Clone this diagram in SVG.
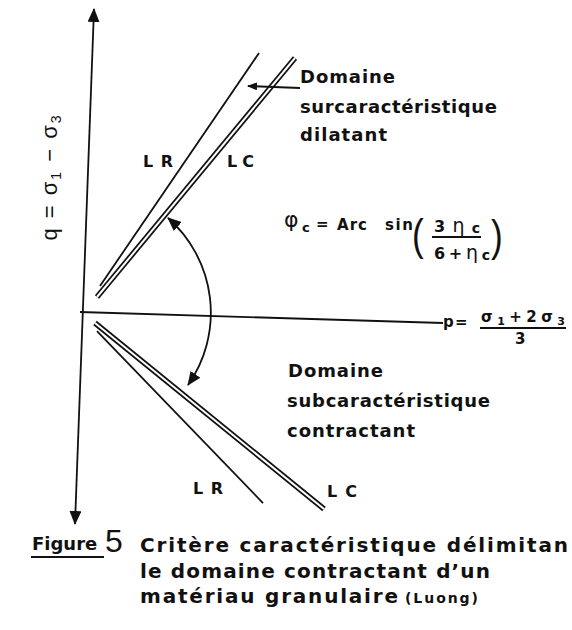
<svg xmlns="http://www.w3.org/2000/svg" width="572" height="630" viewBox="0 0 572 630">
<defs>
<style>
text{font-family:"DejaVu Sans","Liberation Sans",sans-serif;font-weight:bold;fill:#111;}
.lbl{font-size:18px;}
.lr{font-size:16px;}
.cap{font-size:20px;}
.ln{stroke:#111;stroke-width:1.8;fill:none;}
.dbo{stroke:#111;stroke-width:5.5;fill:none;}
.dbi{stroke:#fff;stroke-width:2;fill:none;}
.math{font-size:15px;}
.gr{font-family:"DejaVu Sans",sans-serif;font-weight:normal;}
.par{font-family:"Liberation Sans",sans-serif;font-weight:normal;font-size:44px;}
</style>
<marker id="ah" markerUnits="userSpaceOnUse" markerWidth="14" markerHeight="12" refX="13" refY="6" orient="auto-start-reverse" viewBox="0 0 14 12">
<path d="M0,0 L14,6 L0,12 Z" fill="#111"/>
</marker>
<marker id="ahs" markerUnits="userSpaceOnUse" markerWidth="10" markerHeight="8" refX="9" refY="4" orient="auto" viewBox="0 0 10 8">
<path d="M0,0 L10,4 L0,8 Z" fill="#111"/>
</marker>
</defs>
<rect width="572" height="630" fill="#fff"/>

<g id="connectors">
<line class="ln" x1="94" y1="9" x2="75" y2="524" marker-start="url(#ah)" marker-end="url(#ah)"/>
<line class="ln" x1="80" y1="312" x2="443" y2="323"/>
<line class="ln" x1="100" y1="286" x2="259" y2="53"/>
<line class="dbo" x1="97" y1="297" x2="295" y2="58"/>
<line class="dbi" x1="97" y1="297" x2="295" y2="58"/>
<line class="ln" x1="97" y1="331" x2="263" y2="503"/>
<line class="dbo" x1="95" y1="323" x2="324" y2="509"/>
<line class="dbi" x1="95" y1="323" x2="324" y2="509"/>
<line class="ln" x1="300" y1="88" x2="248" y2="86" stroke-width="1.4" marker-end="url(#ahs)"/>
<path class="ln" d="M168,218 A126 126 0 0 1 188,385" marker-start="url(#ah)" marker-end="url(#ah)"/>
</g>

<g id="y-axis-label">
<text transform="translate(57,178) rotate(-90)" text-anchor="middle" style="font-family:'Liberation Sans',sans-serif;font-weight:normal;font-size:22px" textLength="125" lengthAdjust="spacing">q = σ<tspan font-size="14" dy="4">1</tspan><tspan dy="-4"> − σ</tspan><tspan font-size="14" dy="4">3</tspan></text>
</g>

<g id="x-axis-label">
<text class="math" x="443" y="327">p</text>
<text class="math" x="455" y="327">=</text>
<text class="math" x="481" y="322" textLength="84" lengthAdjust="spacing">σ<tspan font-size="11" dy="3">1</tspan><tspan dy="-3">+2σ</tspan><tspan font-size="11" dy="3">3</tspan></text>
<line class="ln" x1="480" y1="328" x2="566" y2="328" stroke-width="1.5"/>
<text class="math" x="515" y="344">3</text>
</g>

<g id="upper-domain">
<text class="lbl" x="300" y="83" textLength="95" lengthAdjust="spacing">Domaine</text>
<text class="lbl" x="300" y="113" textLength="197" lengthAdjust="spacing">surcaractéristique</text>
<text class="lbl" x="300" y="141" textLength="87" lengthAdjust="spacing">dilatant</text>
</g>

<g id="upper-LR"><text class="lr" x="143" y="167" textLength="30" lengthAdjust="spacing">LR</text></g>
<g id="upper-LC"><text class="lr" x="227" y="167" textLength="27" lengthAdjust="spacing">LC</text></g>

<g id="formula">
<text x="284" y="227" class="gr" style="font-size:22px">φ</text>
<text x="302" y="232" style="font-size:13px">c</text>
<text x="316" y="229" class="math">=</text>
<text x="337" y="230" class="math" textLength="30" lengthAdjust="spacing">Arc</text>
<text x="385" y="230" class="math" textLength="28" lengthAdjust="spacing">sin</text>
<text class="par" transform="translate(412,250) scale(0.8,1)">(</text>
<text x="434" y="232" style="font-size:16px" textLength="46" lengthAdjust="spacing">3<tspan class="gr" font-size="19">η</tspan><tspan font-size="14" dy="1">c</tspan></text>
<line class="ln" x1="432" y1="237" x2="481" y2="237" stroke-width="1.6"/>
<text x="434" y="259" style="font-size:16px" textLength="56" lengthAdjust="spacing">6+<tspan class="gr" font-size="19">η</tspan><tspan font-size="14" dy="1">c</tspan></text>
<text class="par" transform="translate(491,251) scale(0.8,1)">)</text>
</g>

<g id="lower-domain">
<text class="lbl" x="288" y="377" textLength="95" lengthAdjust="spacing">Domaine</text>
<text class="lbl" x="287" y="407" textLength="203" lengthAdjust="spacing">subcaractéristique</text>
<text class="lbl" x="287" y="437" textLength="128" lengthAdjust="spacing">contractant</text>
</g>

<g id="lower-LR"><text class="lr" x="193" y="494" textLength="30" lengthAdjust="spacing">LR</text></g>
<g id="lower-LC"><text class="lr" x="327" y="497" textLength="30" lengthAdjust="spacing">LC</text></g>

<g id="caption">
<text x="32" y="550" style="font-size:18px">Figure</text>
<line class="ln" x1="31" y1="557" x2="104" y2="557" stroke-width="1.5"/>
<text x="105" y="552" style="font-family:'Liberation Sans',sans-serif;font-weight:normal;font-size:32px">5</text>
<text class="cap" x="140" y="552" textLength="428" lengthAdjust="spacing">Critère  caractéristique  délimitan</text>
<text class="cap" x="140" y="578" textLength="350" lengthAdjust="spacing">le  domaine  contractant  d’un</text>
<text class="cap" x="140" y="603" textLength="258" lengthAdjust="spacing">matériau  granulaire</text>
<text x="405" y="603" style="font-size:14px" textLength="73" lengthAdjust="spacing">(Luong)</text>
</g>
</svg>
